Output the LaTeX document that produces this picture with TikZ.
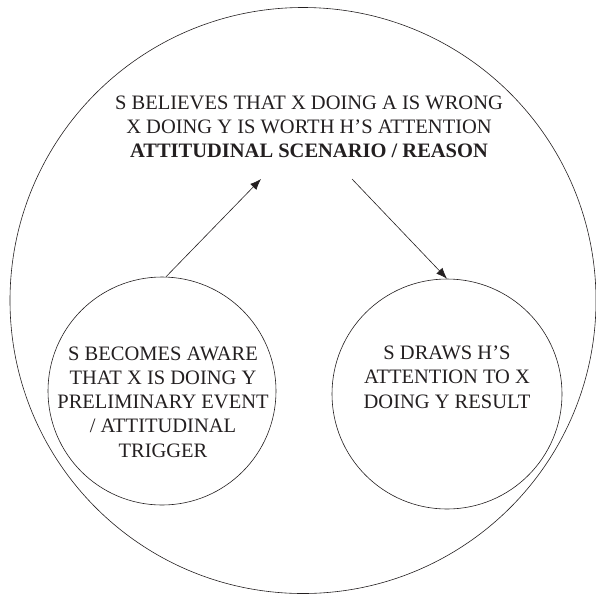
\documentclass[tikz,border=0pt]{standalone}
\usepackage{fontspec}
\setmainfont{Liberation Serif}
\usetikzlibrary{arrows.meta}
\definecolor{ink}{HTML}{231F20}
\begin{document}
\begin{tikzpicture}[x=1pt,y=-1pt,
  ring/.style={draw=ink,line width=0.6pt,circle,inner sep=0pt},
  label/.style={text=ink,align=center,font=\fontsize{20.5}{24.3}\selectfont},
  arr/.style={draw=ink,line width=0.6pt,-{Latex[length=11pt,width=8.5pt]}}]
  \useasboundingbox (0,0) rectangle (596,595);
  % outer frame
  \node[ring,minimum size=586pt] (outer) at (303,300.5) {};
  % central belief
  \node[label] (reason) at (309,127)
    {S BELIEVES THAT X DOING A IS WRONG\\
     X DOING Y IS WORTH H’S ATTENTION\\
     \textbf{ATTITUDINAL SCENARIO / REASON}};
  % trigger and result circles
  \node[ring,minimum size=228pt] (lc) at (162,391) {};
  \node[label] (lt) at (163,402)
    {S BECOMES AWARE\\ THAT X IS DOING Y\\ PRELIMINARY EVENT\\ / ATTITUDINAL\\ TRIGGER};
  \node[ring,minimum size=230pt] (rc) at (447,394) {};
  \node[label] (rt) at (447,377)
    {S DRAWS H’S\\ ATTENTION TO X\\ DOING Y RESULT};
  % arrow ends below the central text
  \coordinate (inpt) at (261,179);
  \coordinate (outpt) at (352,179);
  \draw[arr] (lc.88) -- (inpt);
  \draw[arr] (outpt) -- (rc.north);
\end{tikzpicture}
\end{document}
